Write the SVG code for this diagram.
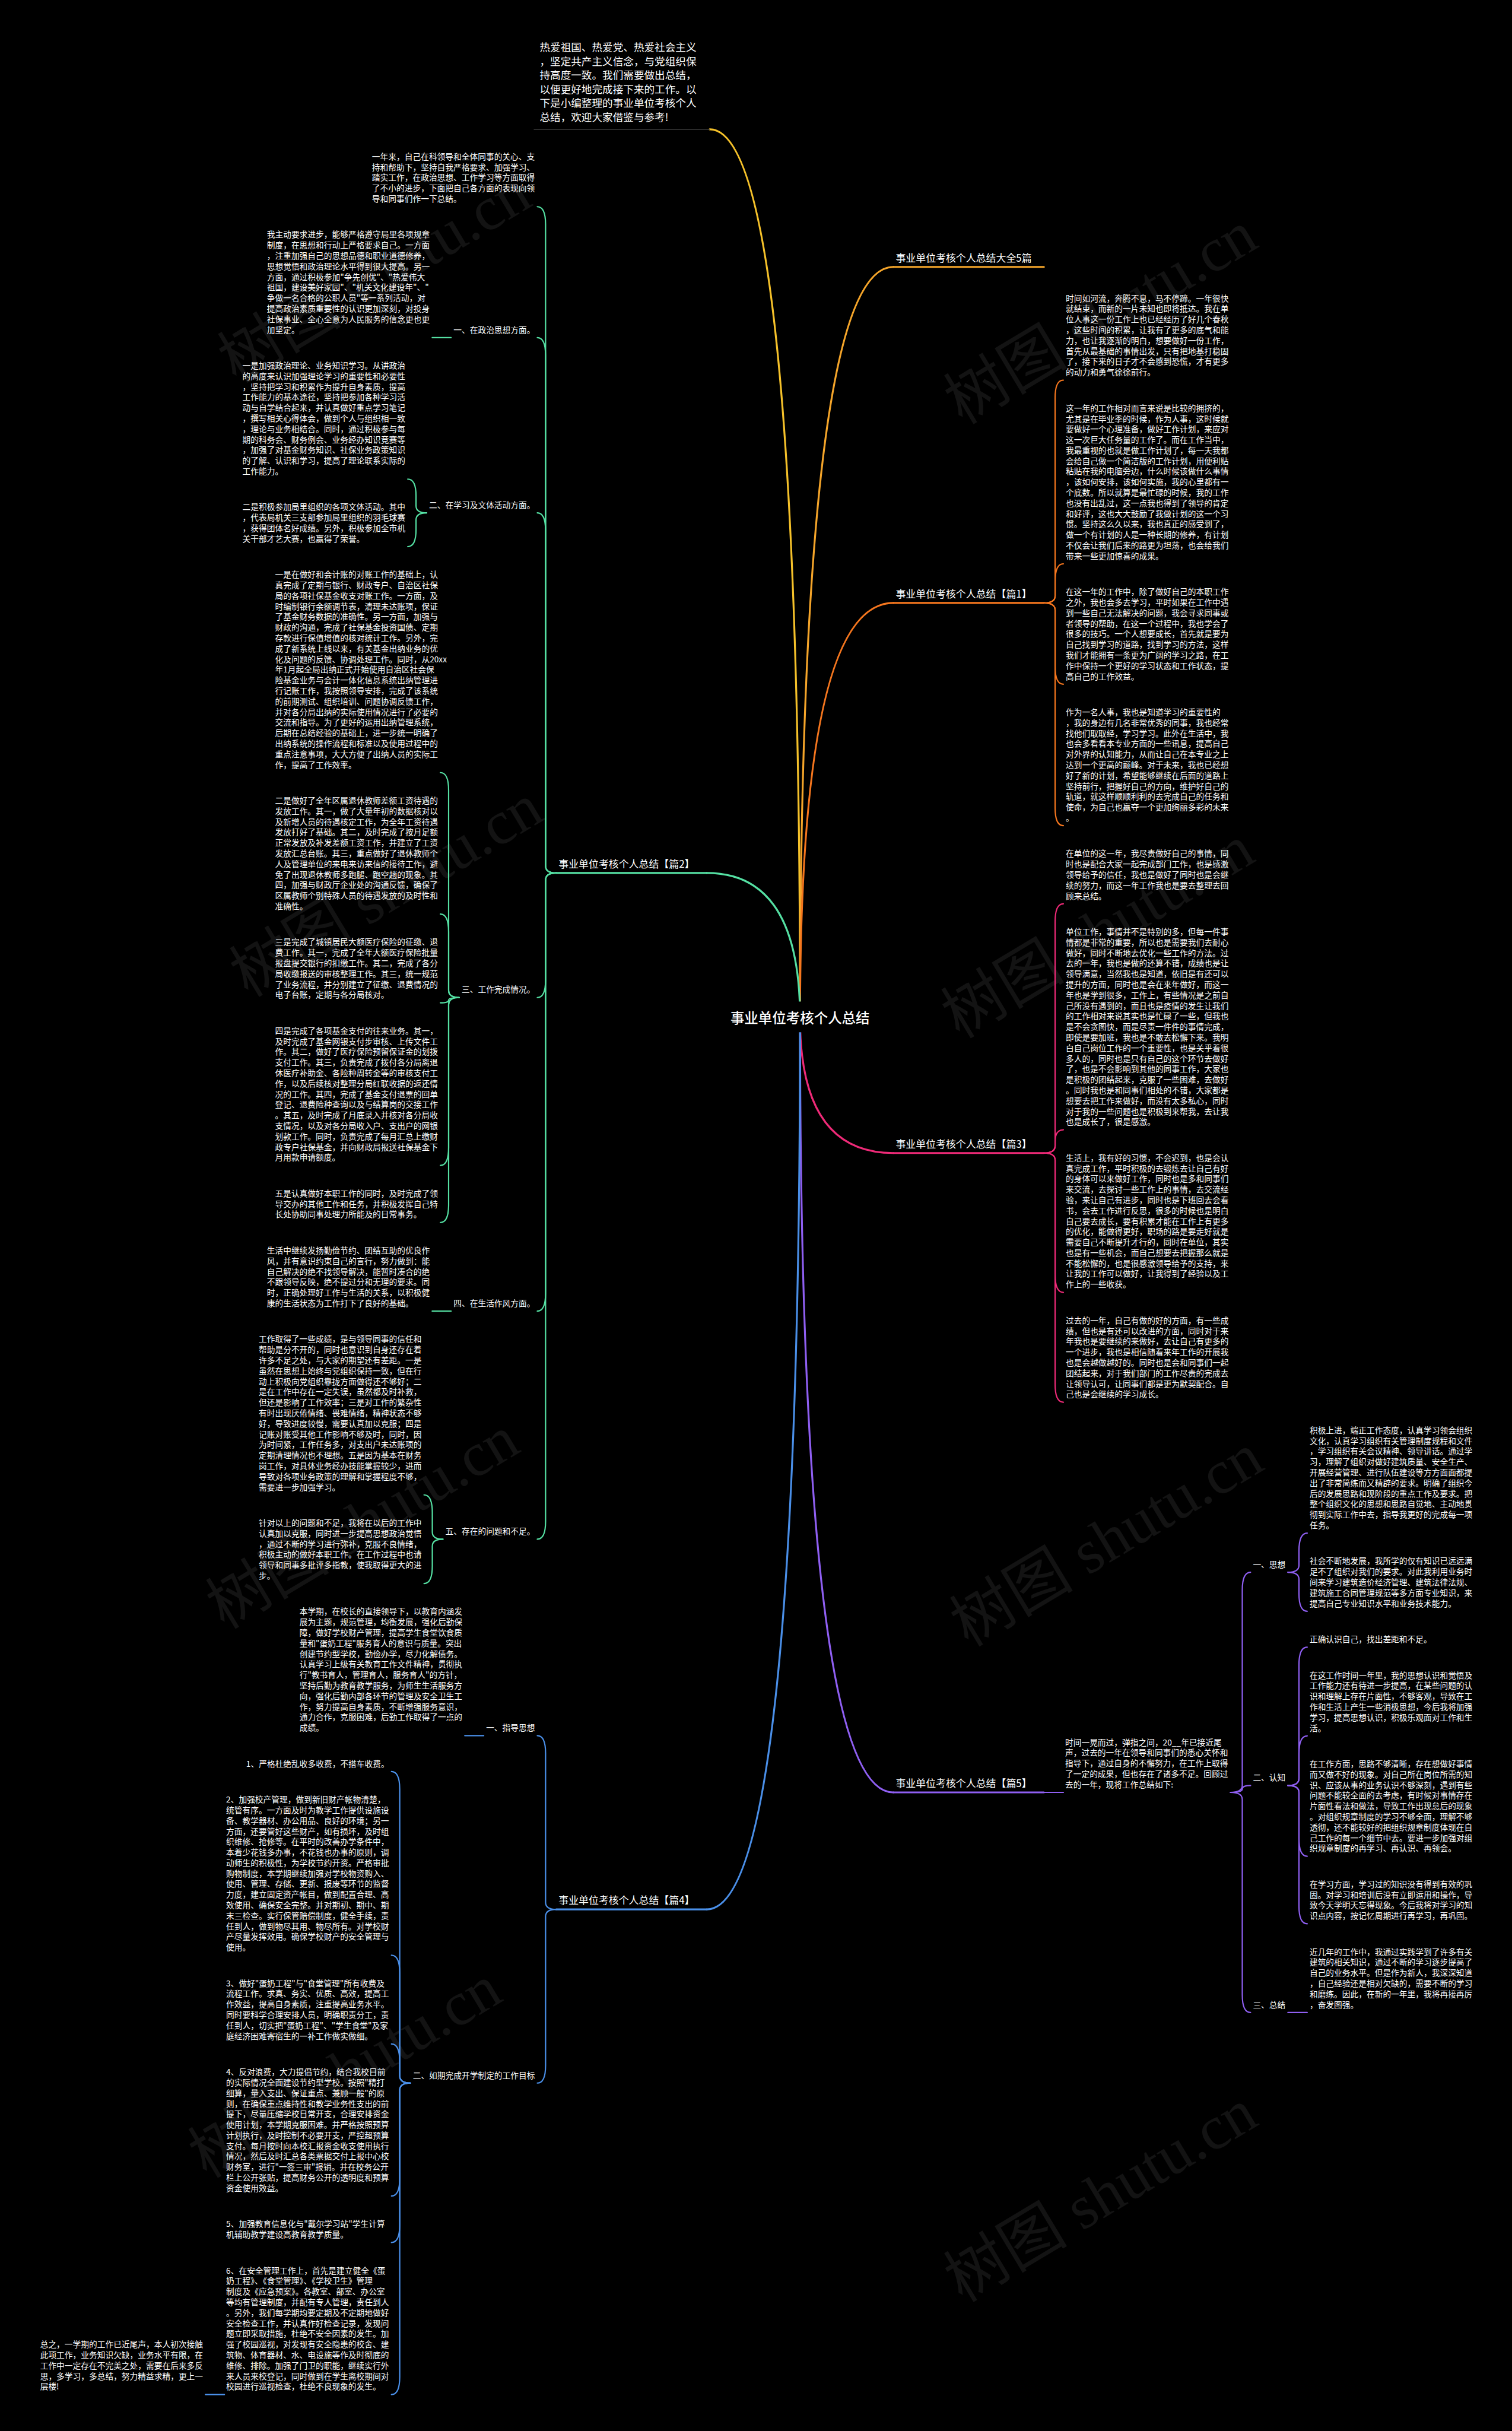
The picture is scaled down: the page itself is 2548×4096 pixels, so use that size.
<svg xmlns="http://www.w3.org/2000/svg" width="2548" height="4096" viewBox="0 0 2548 4096">
<style>
.t{font-family:"Noto Sans CJK SC","Noto Sans",sans-serif;font-size:13.8px;fill:#ffffff}
.lb{font-family:"Noto Sans CJK SC","Noto Sans",sans-serif;font-size:13.8px;fill:#ffffff}
.l1{font-family:"Noto Sans CJK SC","Noto Sans",sans-serif;font-size:17px;fill:#ffffff}
.intro{font-family:"Noto Sans CJK SC","Noto Sans",sans-serif;font-size:17.7px;fill:#ffffff}
.root{font-family:"Noto Sans CJK SC","Noto Sans",sans-serif;font-size:23.6px;fill:#ffffff;font-weight:500}
.wm{font-family:"Liberation Serif","Noto Sans CJK SC",serif;font-size:105px;fill:#131313}
.c{fill:none;stroke-width:2.2;stroke-linecap:round}
.m{fill:none;stroke-width:3.2;stroke-linecap:round}
.g{stroke:#55e0a3}.b{stroke:#4a8fe8}.o{stroke:#f5761e}.p{stroke:#ef2a78}.v{stroke:#8f5ff2}.y{stroke:#f5c12a}.a{stroke:#f5a52a}
</style>
<rect x="0" y="0" width="2548" height="4096" fill="#000000"/>
<g transform="scale(0.995)">
<g id="watermark">
<text class="wm" transform="translate(400 650) rotate(-31)">树图 shutu.cn</text>
<text class="wm" transform="translate(420 1690) rotate(-31)">树图 shutu.cn</text>
<text class="wm" transform="translate(380 2760) rotate(-31)">树图 shutu.cn</text>
<text class="wm" transform="translate(350 3690) rotate(-31)">树图 shutu.cn</text>
<text class="wm" transform="translate(1630 720) rotate(-31)">树图 shutu.cn</text>
<text class="wm" transform="translate(1625 1760) rotate(-31)">树图 shutu.cn</text>
<text class="wm" transform="translate(1640 2790) rotate(-31)">树图 shutu.cn</text>
<text class="wm" transform="translate(1630 3900) rotate(-31)">树图 shutu.cn</text>
</g>
<g id="connectors">
<path class="m y" d="M1355 1725 Q1355 219 1202 219"/>
<path class="m a" d="M1355 1725 Q1355 452 1513 452"/>
<path class="m o" d="M1355 1725 Q1355 1021 1513 1021"/>
<path class="m p" d="M1355 1725 Q1355 1952.5 1513 1952.5"/>
<path class="m v" d="M1355 1725 Q1355 3035.2 1513 3035.2"/>
<path class="m g" d="M1355 1725 Q1355 1478.3 1197 1478.3"/>
<path class="m b" d="M1355 1725 Q1355 3233.3 1197 3233.3"/>
<line x1="1513" y1="452" x2="1768" y2="452" class="m a"/>
<line x1="1513" y1="1021" x2="1768" y2="1021" class="m o"/>
<line x1="1513" y1="1952.5" x2="1768" y2="1952.5" class="m p"/>
<line x1="1513" y1="3035.2" x2="1768" y2="3035.2" class="m v"/>
<line x1="942" y1="1478.3" x2="1197" y2="1478.3" class="m g"/>
<line x1="942" y1="3233.3" x2="1197" y2="3233.3" class="m b"/>
<line x1="904" y1="219" x2="1202" y2="219" stroke="#3a3a3a" stroke-width="1.5"/>
<path class="c g" d="M942 1478.3 Q924 1478.3 924 1466.3 L924 380 Q924 350 910 350"/>
<path class="c g" d="M942 1478.3 Q924 1478.3 924 1466.3 L924 601.7 Q924 571.7 910 571.7"/>
<path class="c g" d="M942 1478.3 Q924 1478.3 924 1466.3 L924 898.5 Q924 868.5 910 868.5"/>
<path class="c g" d="M942 1478.3 Q924 1478.3 924 1490.3 L924 1659.2 Q924 1689.2 910 1689.2"/>
<path class="c g" d="M942 1478.3 Q924 1478.3 924 1490.3 L924 2190.3 Q924 2220.3 910 2220.3"/>
<path class="c g" d="M942 1478.3 Q924 1478.3 924 1490.3 L924 2576.5 Q924 2606.5 910 2606.5"/>
<path class="c g" d="M764 571.7 L732 571.7"/>
<path class="c g" d="M722.6 868.5 Q704.6 868.5 704.6 856.5 L704.6 839.9 Q704.6 811.3 690.6 811.3"/>
<path class="c g" d="M722.6 868.5 Q704.6 868.5 704.6 880.5 L704.6 897.1 Q704.6 925.7 690.6 925.7"/>
<path class="c g" d="M777.8 1689.2 Q759.8 1689.2 759.8 1677.2 L759.8 1338.3 Q759.8 1308.3 745.8 1308.3"/>
<path class="c g" d="M777.8 1689.2 Q759.8 1689.2 759.8 1677.2 L759.8 1577.9 Q759.8 1547.9 745.8 1547.9"/>
<path class="c g" d="M777.8 1689.2 Q759.8 1689.2 759.8 1693.6 Q759.8 1698.1 745.8 1698.1"/>
<path class="c g" d="M777.8 1689.2 Q759.8 1689.2 759.8 1701.2 L759.8 1943.5 Q759.8 1973.5 745.8 1973.5"/>
<path class="c g" d="M777.8 1689.2 Q759.8 1689.2 759.8 1701.2 L759.8 2040.1 Q759.8 2070.1 745.8 2070.1"/>
<path class="c g" d="M764 2220.3 L732 2220.3"/>
<path class="c g" d="M750.2 2606.5 Q732.2 2606.5 732.2 2594.5 L732.2 2561.4 Q732.2 2531.4 718.2 2531.4"/>
<path class="c g" d="M750.2 2606.5 Q732.2 2606.5 732.2 2618.5 L732.2 2651.6 Q732.2 2681.6 718.2 2681.6"/>
<path class="c b" d="M942 3233.3 Q924 3233.3 924 3221.3 L924 2969.1 Q924 2939.1 910 2939.1"/>
<path class="c b" d="M942 3233.3 Q924 3233.3 924 3245.3 L924 3497.4 Q924 3527.4 910 3527.4"/>
<path class="c b" d="M819.2 2939.1 L787.2 2939.1"/>
<path class="c b" d="M695 3527.4 Q677 3527.4 677 3515.4 L677 3029.9 Q677 2999.9 663 2999.9"/>
<path class="c b" d="M695 3527.4 Q677 3527.4 677 3515.4 L677 3341 Q677 3311 663 3311"/>
<path class="c b" d="M695 3527.4 Q677 3527.4 677 3515.4 L677 3491.2 Q677 3461.2 663 3461.2"/>
<path class="c b" d="M695 3527.4 Q677 3527.4 677 3539.4 L677 3688.7 Q677 3718.7 663 3718.7"/>
<path class="c b" d="M695 3527.4 Q677 3527.4 677 3539.4 L677 3767.4 Q677 3797.4 663 3797.4"/>
<path class="c b" d="M695 3527.4 Q677 3527.4 677 3539.4 L677 4024.9 Q677 4054.9 663 4054.9"/>
<path class="c b" d="M380 4054.9 L348 4054.9"/>
<path class="c o" d="M1768 1021 Q1787 1021 1787 1009 L1787 673.7 Q1787 643.7 1801 643.7"/>
<path class="c o" d="M1768 1021 Q1787 1021 1787 1009 L1787 984.8 Q1787 954.8 1801 954.8"/>
<path class="c o" d="M1768 1021 Q1787 1021 1787 1033 L1787 1128.6 Q1787 1158.6 1801 1158.6"/>
<path class="c o" d="M1768 1021 Q1787 1021 1787 1033 L1787 1368.2 Q1787 1398.2 1801 1398.2"/>
<path class="c p" d="M1768 1952.5 Q1787 1952.5 1787 1940.5 L1787 1560.5 Q1787 1530.5 1801 1530.5"/>
<path class="c p" d="M1768 1952.5 Q1787 1952.5 1787 1940.5 L1787 1932.8 Q1787 1913.1 1801 1913.1"/>
<path class="c p" d="M1768 1952.5 Q1787 1952.5 1787 1964.5 L1787 2158.5 Q1787 2188.5 1801 2188.5"/>
<path class="c p" d="M1768 1952.5 Q1787 1952.5 1787 1964.5 L1787 2344.5 Q1787 2374.5 1801 2374.5"/>
<path class="c v" d="M1768 3035.2 L1801 3035.2"/>
<path class="c v" d="M2084 3035.2 Q2104 3035.2 2104 3023.2 L2104 2692.4 Q2104 2662.4 2118 2662.4"/>
<path class="c v" d="M2084 3035.2 Q2104 3035.2 2104 3029.3 Q2104 3023.5 2118 3023.5"/>
<path class="c v" d="M2084 3035.2 Q2104 3035.2 2104 3047.2 L2104 3377.9 Q2104 3407.9 2118 3407.9"/>
<path class="c v" d="M2181.2 2662.4 Q2200 2662.4 2200 2650.4 L2200 2626.2 Q2200 2596.2 2214 2596.2"/>
<path class="c v" d="M2181.2 2662.4 Q2200 2662.4 2200 2674.4 L2200 2698.5 Q2200 2728.5 2214 2728.5"/>
<path class="c v" d="M2181.2 3023.5 Q2200 3023.5 2200 3011.5 L2200 2819.3 Q2200 2789.3 2214 2789.3"/>
<path class="c v" d="M2181.2 3023.5 Q2200 3023.5 2200 3011.5 L2200 2969.5 Q2200 2939.5 2214 2939.5"/>
<path class="c v" d="M2181.2 3023.5 Q2200 3023.5 2200 3035.5 L2200 3113.3 Q2200 3143.3 2214 3143.3"/>
<path class="c v" d="M2181.2 3023.5 Q2200 3023.5 2200 3035.5 L2200 3227.7 Q2200 3257.7 2214 3257.7"/>
<path class="c v" d="M2181.2 3407.9 L2214 3407.9"/>
</g>

<g id="root">
<rect x="1228" y="1696" width="254" height="52" rx="6" fill="#000000"/>
<text class="root" x="1355" y="1733" text-anchor="middle">事业单位考核个人总结</text>
</g>

<g id="intro">
<text class="intro" x="914"><tspan x="914" y="86.7">热爱祖国、热爱党、热爱社会主义</tspan><tspan x="914" dy="23.6">，坚定共产主义信念，与党组织保</tspan><tspan x="914" dy="23.6">持高度一致。我们需要做出总结，</tspan><tspan x="914" dy="23.6">以便更好地完成接下来的工作。以</tspan><tspan x="914" dy="23.6">下是小编整理的事业单位考核个人</tspan><tspan x="914" dy="23.6">总结，欢迎大家借鉴与参考!</tspan></text>
</g>

<g id="l1-daquan"><text class="l1" x="1517" y="443">事业单位考核个人总结大全5篇</text></g>
<g id="l1-p1"><text class="l1" x="1517" y="1012">事业单位考核个人总结【篇1】</text></g>
<g id="l1-p3"><text class="l1" x="1517" y="1943.5">事业单位考核个人总结【篇3】</text></g>
<g id="l1-p5"><text class="l1" x="1517" y="3026.2">事业单位考核个人总结【篇5】</text></g>
<g id="l1-p2"><text class="l1" x="946" y="1469.3">事业单位考核个人总结【篇2】</text></g>
<g id="l1-p4"><text class="l1" x="946" y="3224.3">事业单位考核个人总结【篇4】</text></g>

<g id="lab-p2-1"><text class="lb" x="906" y="563.4" text-anchor="end">一、在政治思想方面。</text></g>
<g id="lab-p2-2"><text class="lb" x="906" y="860.2" text-anchor="end">二、在学习及文体活动方面。</text></g>
<g id="lab-p2-3"><text class="lb" x="906" y="1680.9" text-anchor="end">三、工作完成情况。</text></g>
<g id="lab-p2-4"><text class="lb" x="906" y="2212" text-anchor="end">四、在生活作风方面。</text></g>
<g id="lab-p2-5"><text class="lb" x="906" y="2598.2" text-anchor="end">五、存在的问题和不足。</text></g>
<g id="lab-p4-1"><text class="lb" x="906" y="2930.8" text-anchor="end">一、指导思想</text></g>
<g id="lab-p4-2"><text class="lb" x="906" y="3519.1" text-anchor="end">二、如期完成开学制定的工作目标</text></g>
<g id="lab-p5-1"><text class="lb" x="2122" y="2654.1">一、思想</text></g>
<g id="lab-p5-2"><text class="lb" x="2122" y="3015.2">二、认知</text></g>
<g id="lab-p5-3"><text class="lb" x="2122" y="3399.6">三、总结</text></g>

<g id="b1"><text class="t" x="630"><tspan x="630" y="270.2">一年来，自己在科领导和全体同事的关心、支</tspan><tspan x="630" dy="17.88">持和帮助下，坚持自我严格要求、加强学习、</tspan><tspan x="630" dy="17.88">踏实工作，在政治思想、工作学习等方面取得</tspan><tspan x="630" dy="17.88">了不小的进步，下面把自己各方面的表现向领</tspan><tspan x="630" dy="17.88">导和同事们作一下总结。</tspan></text></g>

<g id="b2"><text class="t"><tspan x="452" y="402.5">我主动要求进步，能够严格遵守局里各项规章</tspan><tspan x="452" dy="17.88">制度，在思想和行动上严格要求自己。一方面</tspan><tspan x="452" dy="17.88">，注重加强自己的思想品德和职业道德修养，</tspan><tspan x="452" dy="17.88">思想觉悟和政治理论水平得到很大提高。另一</tspan><tspan x="452" dy="17.88">方面，通过积极参加"争先创优"、"热爱伟大</tspan><tspan x="452" dy="17.88">祖国，建设美好家园"、"机关文化建设年"、"</tspan><tspan x="452" dy="17.88">争做一名合格的公职人员"等一系列活动，对</tspan><tspan x="452" dy="17.88">提高政治素质重要性的认识更加深刻，对投身</tspan><tspan x="452" dy="17.88">社保事业、全心全意为人民服务的信念更也更</tspan><tspan x="452" dy="17.88">加坚定。</tspan></text></g>

<g id="b3"><text class="t"><tspan x="410.6" y="624.2">一是加强政治理论、业务知识学习。从讲政治</tspan><tspan x="410.6" dy="17.88">的高度来认识加强理论学习的重要性和必要性</tspan><tspan x="410.6" dy="17.88">，坚持把学习和积累作为提升自身素质，提高</tspan><tspan x="410.6" dy="17.88">工作能力的基本途径，坚持把参加各种学习活</tspan><tspan x="410.6" dy="17.88">动与自学结合起来，并认真做好重点学习笔记</tspan><tspan x="410.6" dy="17.88">，撰写相关心得体会，做到个人与组织相一致</tspan><tspan x="410.6" dy="17.88">，理论与业务相结合。同时，通过积极参与每</tspan><tspan x="410.6" dy="17.88">期的科务会、财务例会、业务经办知识竞赛等</tspan><tspan x="410.6" dy="17.88">，加强了对基金财务知识、社保业务政策知识</tspan><tspan x="410.6" dy="17.88">的了解、认识和学习，提高了理论联系实际的</tspan><tspan x="410.6" dy="17.88">工作能力。</tspan></text></g>

<g id="b4"><text class="t"><tspan x="410.6" y="863.8">二是积极参加局里组织的各项文体活动。其中</tspan><tspan x="410.6" dy="17.88">，代表局机关三支部参加局里组织的羽毛球赛</tspan><tspan x="410.6" dy="17.88">，获得团体名好成绩。另外，积极参加全市机</tspan><tspan x="410.6" dy="17.88">关干部才艺大赛，也赢得了荣誉。</tspan></text></g>

<g id="b5"><text class="t"><tspan x="465.8" y="978.2">一是在做好和会计账的对账工作的基础上，认</tspan><tspan x="465.8" dy="17.88">真完成了定期与银行、财政专户、自治区社保</tspan><tspan x="465.8" dy="17.88">局的各项社保基金收支对账工作。一方面，及</tspan><tspan x="465.8" dy="17.88">时编制银行余额调节表，清理未达账项，保证</tspan><tspan x="465.8" dy="17.88">了基金财务数据的准确性。另一方面，加强与</tspan><tspan x="465.8" dy="17.88">财政的沟通，完成了社保基金投资国债、定期</tspan><tspan x="465.8" dy="17.88">存款进行保值增值的核对统计工作。另外，完</tspan><tspan x="465.8" dy="17.88">成了新系统上线以来，有关基金出纳业务的优</tspan><tspan x="465.8" dy="17.88">化及问题的反馈、协调处理工作。同时，从20xx</tspan><tspan x="465.8" dy="17.88">年1月起全局出纳正式开始使用自治区社会保</tspan><tspan x="465.8" dy="17.88">险基金业务与会计一体化信息系统出纳管理进</tspan><tspan x="465.8" dy="17.88">行记账工作，我按照领导安排，完成了该系统</tspan><tspan x="465.8" dy="17.88">的前期测试、组织培训、问题协调反馈工作，</tspan><tspan x="465.8" dy="17.88">并对各分局出纳的实际使用情况进行了必要的</tspan><tspan x="465.8" dy="17.88">交流和指导。为了更好的运用出纳管理系统，</tspan><tspan x="465.8" dy="17.88">后期在总结经验的基础上，进一步统一明确了</tspan><tspan x="465.8" dy="17.88">出纳系统的操作流程和标准以及使用过程中的</tspan><tspan x="465.8" dy="17.88">重点注意事项，大大方便了出纳人员的实际工</tspan><tspan x="465.8" dy="17.88">作，提高了工作效率。</tspan></text></g>

<g id="b6"><text class="t"><tspan x="465.8" y="1360.8">二是做好了全年区属退休教师差额工资待遇的</tspan><tspan x="465.8" dy="17.88">发放工作。其一，做了大量年初的数据核对以</tspan><tspan x="465.8" dy="17.88">及新增人员的待遇核定工作，为全年工资待遇</tspan><tspan x="465.8" dy="17.88">发放打好了基础。其二，及时完成了按月足额</tspan><tspan x="465.8" dy="17.88">正常发放及补发差额工资工作，并建立了工资</tspan><tspan x="465.8" dy="17.88">发放汇总台账。其三，重点做好了退休教师个</tspan><tspan x="465.8" dy="17.88">人及管理单位的来电来访来信的接待工作，避</tspan><tspan x="465.8" dy="17.88">免了出现退休教师多跑腿、跑空趟的现象。其</tspan><tspan x="465.8" dy="17.88">四，加强与财政厅企业处的沟通反馈，确保了</tspan><tspan x="465.8" dy="17.88">区属教师个别特殊人员的待遇发放的及时性和</tspan><tspan x="465.8" dy="17.88">准确性。</tspan></text></g>

<g id="b7"><text class="t"><tspan x="465.8" y="1600.4">三是完成了城镇居民大额医疗保险的征缴、退</tspan><tspan x="465.8" dy="17.88">费工作。其一，完成了全年大额医疗保险批量</tspan><tspan x="465.8" dy="17.88">报盘提交银行的扣缴工作。其二，完成了各分</tspan><tspan x="465.8" dy="17.88">局收缴报送的审核整理工作。其三，统一规范</tspan><tspan x="465.8" dy="17.88">了业务流程，并分别建立了征缴、退费情况的</tspan><tspan x="465.8" dy="17.88">电子台账，定期与各分局核对。</tspan></text></g>

<g id="b8"><text class="t"><tspan x="465.8" y="1750.6">四是完成了各项基金支付的往来业务。其一，</tspan><tspan x="465.8" dy="17.88">及时完成了基金网银支付步审核、上传文件工</tspan><tspan x="465.8" dy="17.88">作。其二，做好了医疗保险预留保证金的划拨</tspan><tspan x="465.8" dy="17.88">支付工作。其三，负责完成了拨付各分局离退</tspan><tspan x="465.8" dy="17.88">休医疗补助金、各险种周转金等的审核支付工</tspan><tspan x="465.8" dy="17.88">作，以及后续核对整理分局红联收据的返还情</tspan><tspan x="465.8" dy="17.88">况的工作。其四，完成了基金支付退票的回单</tspan><tspan x="465.8" dy="17.88">登记、退费险种查询以及与结算岗的交接工作</tspan><tspan x="465.8" dy="17.88">。其五，及时完成了月底录入并核对各分局收</tspan><tspan x="465.8" dy="17.88">支情况，以及对各分局收入户、支出户的网银</tspan><tspan x="465.8" dy="17.88">划款工作。同时，负责完成了每月汇总上缴财</tspan><tspan x="465.8" dy="17.88">政专户社保基金，并向财政局报送社保基金下</tspan><tspan x="465.8" dy="17.88">月用款申请额度。</tspan></text></g>

<g id="b9"><text class="t"><tspan x="465.8" y="2026">五是认真做好本职工作的同时，及时完成了领</tspan><tspan x="465.8" dy="17.88">导交办的其他工作和任务，并积极发挥自己特</tspan><tspan x="465.8" dy="17.88">长处协助同事处理力所能及的日常事务。</tspan></text></g>

<g id="b10"><text class="t"><tspan x="452" y="2122.6">生活中继续发扬勤俭节约、团结互助的优良作</tspan><tspan x="452" dy="17.88">风，并有意识约束自己的言行，努力做到：能</tspan><tspan x="452" dy="17.88">自己解决的绝不找领导解决，能暂时凑合的绝</tspan><tspan x="452" dy="17.88">不跟领导反映，绝不提过分和无理的要求。同</tspan><tspan x="452" dy="17.88">时，正确处理好工作与生活的关系，以积极健</tspan><tspan x="452" dy="17.88">康的生活状态为工作打下了良好的基础。</tspan></text></g>

<g id="b11"><text class="t"><tspan x="438.2" y="2272.8">工作取得了一些成绩，是与领导同事的信任和</tspan><tspan x="438.2" dy="17.88">帮助是分不开的，同时也意识到自身还存在着</tspan><tspan x="438.2" dy="17.88">许多不足之处，与大家的期望还有差距。一是</tspan><tspan x="438.2" dy="17.88">虽然在思想上始终与党组织保持一致，但在行</tspan><tspan x="438.2" dy="17.88">动上积极向党组织靠拢方面做得还不够好；二</tspan><tspan x="438.2" dy="17.88">是在工作中存在一定失误，虽然都及时补救，</tspan><tspan x="438.2" dy="17.88">但还是影响了工作效率；三是对工作的繁杂性</tspan><tspan x="438.2" dy="17.88">有时出现厌倦情绪、畏难情绪，精神状态不够</tspan><tspan x="438.2" dy="17.88">好，导致进度较慢，需要认真加以克服；四是</tspan><tspan x="438.2" dy="17.88">记账对账受其他工作影响不够及时，同时，因</tspan><tspan x="438.2" dy="17.88">为时间紧，工作任务多，对支出户未达账项的</tspan><tspan x="438.2" dy="17.88">定期清理情况也不理想。五是因为基本在财务</tspan><tspan x="438.2" dy="17.88">岗工作，对具体业务经办技能掌握较少，进而</tspan><tspan x="438.2" dy="17.88">导致对各项业务政策的理解和掌握程度不够，</tspan><tspan x="438.2" dy="17.88">需要进一步加强学习。</tspan></text></g>

<g id="b12"><text class="t"><tspan x="438.2" y="2583.9">针对以上的问题和不足，我将在以后的工作中</tspan><tspan x="438.2" dy="17.88">认真加以克服，同时进一步提高思想政治觉悟</tspan><tspan x="438.2" dy="17.88">，通过不断的学习进行弥补，克服不良情绪，</tspan><tspan x="438.2" dy="17.88">积极主动的做好本职工作。在工作过程中也请</tspan><tspan x="438.2" dy="17.88">领导和同事多批评多指教，使我取得更大的进</tspan><tspan x="438.2" dy="17.88">步。</tspan></text></g>

<g id="b13"><text class="t"><tspan x="507.2" y="2734.1">本学期，在校长的直接领导下，以教育内涵发</tspan><tspan x="507.2" dy="17.88">展为主题，规范管理，均衡发展，强化后勤保</tspan><tspan x="507.2" dy="17.88">障，做好学校财产管理，提高学生食堂饮食质</tspan><tspan x="507.2" dy="17.88">量和"蛋奶工程"服务育人的意识与质量。突出</tspan><tspan x="507.2" dy="17.88">创建节约型学校，勤俭办学，尽力化解债务。</tspan><tspan x="507.2" dy="17.88">认真学习上级有关教育工作文件精神，贯彻执</tspan><tspan x="507.2" dy="17.88">行"教书育人，管理育人，服务育人"的方针，</tspan><tspan x="507.2" dy="17.88">坚持后勤为教育教学服务，为师生生活服务方</tspan><tspan x="507.2" dy="17.88">向，强化后勤内部各环节的管理及安全卫生工</tspan><tspan x="507.2" dy="17.88">作，努力提高自身素质，不断增强服务意识，</tspan><tspan x="507.2" dy="17.88">通力合作，克服困难，后勤工作取得了一点的</tspan><tspan x="507.2" dy="17.88">成绩。</tspan></text></g>

<g id="b14"><text class="t" x="659" y="2991.6" text-anchor="end">1、严格杜绝乱收多收费，不搭车收费。</text></g>

<g id="b15"><text class="t"><tspan x="383" y="3052.4">2、加强校产管理，做到新旧财产帐物清楚，</tspan><tspan x="383" dy="17.88">统管有序。一方面及时为教学工作提供设施设</tspan><tspan x="383" dy="17.88">备、教学器材、办公用品、良好的环境；另一</tspan><tspan x="383" dy="17.88">方面，还要管好这些财产，如有损坏，及时组</tspan><tspan x="383" dy="17.88">织维修、抢修等。在平时的改善办学条件中，</tspan><tspan x="383" dy="17.88">本着少花钱多办事，不花钱也办事的原则，调</tspan><tspan x="383" dy="17.88">动师生的积极性，为学校节约开资。严格审批</tspan><tspan x="383" dy="17.88">购物制度，本学期继续加强对学校物资购入、</tspan><tspan x="383" dy="17.88">使用、管理、存储、更新、报废等环节的监督</tspan><tspan x="383" dy="17.88">力度，建立固定资产帐目，做到配置合理、高</tspan><tspan x="383" dy="17.88">效使用、确保安全完整。并对期初、期中、期</tspan><tspan x="383" dy="17.88">末三检查。实行保管赔偿制度，健全手续，责</tspan><tspan x="383" dy="17.88">任到人，做到物尽其用、物尽所有。对学校财</tspan><tspan x="383" dy="17.88">产尽量发挥效用。确保学校财产的安全管理与</tspan><tspan x="383" dy="17.88">使用。</tspan></text></g>

<g id="b16"><text class="t"><tspan x="383" y="3363.5">3、做好"蛋奶工程"与"食堂管理"所有收费及</tspan><tspan x="383" dy="17.88">流程工作。求真、务实、优质、高效，提高工</tspan><tspan x="383" dy="17.88">作效益，提高自身素质，注重提高业务水平。</tspan><tspan x="383" dy="17.88">同时要科学合理安排人员，明确职责分工，责</tspan><tspan x="383" dy="17.88">任到人，切实把"蛋奶工程"、"学生食堂"及家</tspan><tspan x="383" dy="17.88">庭经济困难寄宿生的一补工作做实做细。</tspan></text></g>

<g id="b17"><text class="t"><tspan x="383" y="3513.7">4、反对浪费，大力提倡节约，结合我校目前</tspan><tspan x="383" dy="17.88">的实际情况全面建设节约型学校。按照"精打</tspan><tspan x="383" dy="17.88">细算，量入支出、保证重点、兼顾一般"的原</tspan><tspan x="383" dy="17.88">则，在确保重点维持性和教学业务性支出的前</tspan><tspan x="383" dy="17.88">提下，尽量压缩学校日常开支，合理安排资金</tspan><tspan x="383" dy="17.88">使用计划，本学期克服困难。并严格按照预算</tspan><tspan x="383" dy="17.88">计划执行，及时控制不必要开支，严控超预算</tspan><tspan x="383" dy="17.88">支付。每月按时向本校汇报资金收支使用执行</tspan><tspan x="383" dy="17.88">情况，然后及时汇总各类票据交付上报中心校</tspan><tspan x="383" dy="17.88">财务室，进行"一签三审"报销。并在校务公开</tspan><tspan x="383" dy="17.88">栏上公开张贴，提高财务公开的透明度和预算</tspan><tspan x="383" dy="17.88">资金使用效益。</tspan></text></g>

<g id="b18"><text class="t"><tspan x="383" y="3771.2">5、加强教育信息化与"戴尔学习站"学生计算</tspan><tspan x="383" dy="17.88">机辅助教学建设高教育教学质量。</tspan></text></g>

<g id="b19"><text class="t"><tspan x="383" y="3849.9">6、在安全管理工作上，首先是建立健全《蛋</tspan><tspan x="383" dy="17.88">奶工程》、《食堂管理》、《学校卫生》管理</tspan><tspan x="383" dy="17.88">制度及《应急预案》。各教室、部室、办公室</tspan><tspan x="383" dy="17.88">等均有管理制度，并配有专人管理，责任到人</tspan><tspan x="383" dy="17.88">。另外，我们每学期均要定期及不定期地做好</tspan><tspan x="383" dy="17.88">安全检查工作，并认真作好检查记录，发现问</tspan><tspan x="383" dy="17.88">题立即采取措施，杜绝不安全因素的发生。加</tspan><tspan x="383" dy="17.88">强了校园巡视，对发现有安全隐患的校舍、建</tspan><tspan x="383" dy="17.88">筑物、体育器材、水、电设施等作及时彻底的</tspan><tspan x="383" dy="17.88">维修、排除。加强了门卫的职能，继续实行外</tspan><tspan x="383" dy="17.88">来人员来校登记，同时做到在学生离校期间对</tspan><tspan x="383" dy="17.88">校园进行巡视检查，杜绝不良现象的发生。</tspan></text></g>

<g id="b20"><text class="t"><tspan x="68" y="3975.1">总之，一学期的工作已近尾声，本人初次接触</tspan><tspan x="68" dy="17.88">此项工作，业务知识欠缺，业务水平有限，在</tspan><tspan x="68" dy="17.88">工作中一定存在不完美之处，需要在后来多反</tspan><tspan x="68" dy="17.88">思，多学习，多总结，努力精益求精，更上一</tspan><tspan x="68" dy="17.88">层楼!</tspan></text></g>

<g id="ra"><text class="t"><tspan x="1805" y="510.2">时间如河流，奔腾不息，马不停蹄。一年很快</tspan><tspan x="1805" dy="17.88">就结束，而新的一片未知也即将抵达。我在单</tspan><tspan x="1805" dy="17.88">位人事这一份工作上也已经经历了好几个春秋</tspan><tspan x="1805" dy="17.88">，这些时间的积累，让我有了更多的底气和能</tspan><tspan x="1805" dy="17.88">力，也让我逐渐的明白，想要做好一份工作，</tspan><tspan x="1805" dy="17.88">首先从最基础的事情出发，只有把地基打稳固</tspan><tspan x="1805" dy="17.88">了，接下来的日子才不会感到恐慌，才有更多</tspan><tspan x="1805" dy="17.88">的动力和勇气徐徐前行。</tspan></text></g>

<g id="rb"><text class="t"><tspan x="1805" y="696.2">这一年的工作相对而言来说是比较的拥挤的，</tspan><tspan x="1805" dy="17.88">尤其是在毕业季的时候，作为人事，这时候就</tspan><tspan x="1805" dy="17.88">要做好一个心理准备，做好工作计划，来应对</tspan><tspan x="1805" dy="17.88">这一次巨大任务量的工作了。而在工作当中，</tspan><tspan x="1805" dy="17.88">我最重视的也就是做工作计划了，每一天我都</tspan><tspan x="1805" dy="17.88">会给自己做一个简洁版的工作计划，用便利贴</tspan><tspan x="1805" dy="17.88">粘贴在我的电脑旁边，什么时候该做什么事情</tspan><tspan x="1805" dy="17.88">，该如何安排，该如何实施，我的心里都有一</tspan><tspan x="1805" dy="17.88">个底数。所以就算是最忙碌的时候，我的工作</tspan><tspan x="1805" dy="17.88">也没有出乱过，这一点我也得到了领导的肯定</tspan><tspan x="1805" dy="17.88">和好评，这也大大鼓励了我做计划的这一个习</tspan><tspan x="1805" dy="17.88">惯。坚持这么久以来，我也真正的感受到了，</tspan><tspan x="1805" dy="17.88">做一个有计划的人是一种长期的修养，有计划</tspan><tspan x="1805" dy="17.88">不仅会让我们后来的路更为坦荡，也会给我们</tspan><tspan x="1805" dy="17.88">带来一些更加惊喜的成果。</tspan></text></g>

<g id="rc"><text class="t"><tspan x="1805" y="1007.3">在这一年的工作中，除了做好自己的本职工作</tspan><tspan x="1805" dy="17.88">之外，我也会多去学习，平时如果在工作中遇</tspan><tspan x="1805" dy="17.88">到一些自己无法解决的问题，我会寻求同事或</tspan><tspan x="1805" dy="17.88">者领导的帮助，在这一个过程中，我也学会了</tspan><tspan x="1805" dy="17.88">很多的技巧。一个人想要成长，首先就是要为</tspan><tspan x="1805" dy="17.88">自己找到学习的道路，找到学习的方法，这样</tspan><tspan x="1805" dy="17.88">我们才能拥有一条更为广阔的学习之路，在工</tspan><tspan x="1805" dy="17.88">作中保持一个更好的学习状态和工作状态，提</tspan><tspan x="1805" dy="17.88">高自己的工作效益。</tspan></text></g>

<g id="rd"><text class="t"><tspan x="1805" y="1211.1">作为一名人事，我也是知道学习的重要性的</tspan><tspan x="1805" dy="17.88">，我的身边有几名非常优秀的同事，我也经常</tspan><tspan x="1805" dy="17.88">找他们取取经，学习学习。此外在生活中，我</tspan><tspan x="1805" dy="17.88">也会多看看本专业方面的一些讯息，提高自己</tspan><tspan x="1805" dy="17.88">对外界的认知能力，从而让自己在本专业之上</tspan><tspan x="1805" dy="17.88">达到一个更高的巅峰。对于未来，我也已经想</tspan><tspan x="1805" dy="17.88">好了新的计划，希望能够继续在后面的道路上</tspan><tspan x="1805" dy="17.88">坚持前行，把握好自己的方向，维护好自己的</tspan><tspan x="1805" dy="17.88">轨道，就这样顺顺利利的去完成自己的任务和</tspan><tspan x="1805" dy="17.88">使命，为自己也赢夺一个更加绚丽多彩的未来</tspan><tspan x="1805" dy="17.88">。</tspan></text></g>

<g id="re"><text class="t"><tspan x="1805" y="1450.7">在单位的这一年，我尽责做好自己的事情，同</tspan><tspan x="1805" dy="17.88">时也是配合大家一起完成部门工作，也是感激</tspan><tspan x="1805" dy="17.88">领导给予的信任，我也是做好了同时也是会继</tspan><tspan x="1805" dy="17.88">续的努力，而这一年工作我也是要去整理去回</tspan><tspan x="1805" dy="17.88">顾来总结。</tspan></text></g>

<g id="rf"><text class="t"><tspan x="1805" y="1583">单位工作，事情并不是特别的多，但每一件事</tspan><tspan x="1805" dy="17.88">情都是非常的重要，所以也是需要我们去耐心</tspan><tspan x="1805" dy="17.88">做好，同时不断地去优化一些工作的方法。过</tspan><tspan x="1805" dy="17.88">去的一年，我也是做的还算不错，成绩也是让</tspan><tspan x="1805" dy="17.88">领导满意，当然我也是知道，依旧是有还可以</tspan><tspan x="1805" dy="17.88">提升的方面，同时也是会在来年做好，而这一</tspan><tspan x="1805" dy="17.88">年也是学到很多，工作上，有些情况是之前自</tspan><tspan x="1805" dy="17.88">己所没有遇到的，而且也是疫情的发生让我们</tspan><tspan x="1805" dy="17.88">的工作相对来说其实也是忙碌了一些，但我也</tspan><tspan x="1805" dy="17.88">是不会贪图快，而是尽责一件件的事情完成，</tspan><tspan x="1805" dy="17.88">即使是要加班，我也是不敢去松懈下来。我明</tspan><tspan x="1805" dy="17.88">白自己岗位工作的一个重要性，也是关乎着很</tspan><tspan x="1805" dy="17.88">多人的，同时也是只有自己的这个环节去做好</tspan><tspan x="1805" dy="17.88">了，也是不会影响到其他的同事工作，大家也</tspan><tspan x="1805" dy="17.88">是积极的团结起来，克服了一些困难，去做好</tspan><tspan x="1805" dy="17.88">。同时我也是和同事们相处的不错，大家都是</tspan><tspan x="1805" dy="17.88">想要去把工作来做好，而没有太多私心，同时</tspan><tspan x="1805" dy="17.88">对于我的一些问题也是积极到来帮我，去让我</tspan><tspan x="1805" dy="17.88">也是成长了，很是感激。</tspan></text></g>

<g id="rg"><text class="t"><tspan x="1805" y="1965.6">生活上，我有好的习惯，不会迟到，也是会认</tspan><tspan x="1805" dy="17.88">真完成工作，平时积极的去锻炼去让自己有好</tspan><tspan x="1805" dy="17.88">的身体可以来做好工作，同时也是多和同事们</tspan><tspan x="1805" dy="17.88">来交流，去探讨一些工作上的事情，去交流经</tspan><tspan x="1805" dy="17.88">验，来让自己有进步，同时也是下班回去会看</tspan><tspan x="1805" dy="17.88">书，会去工作进行反思，很多的时候也是明白</tspan><tspan x="1805" dy="17.88">自己要去成长，要有积累才能在工作上有更多</tspan><tspan x="1805" dy="17.88">的优化，能做得更好，职场的路是要走好就是</tspan><tspan x="1805" dy="17.88">需要自己不断提升才行的，同时在单位，其实</tspan><tspan x="1805" dy="17.88">也是有一些机会，而自己想要去把握那么就是</tspan><tspan x="1805" dy="17.88">不能松懈的，也是很感激领导给予的支持，来</tspan><tspan x="1805" dy="17.88">让我的工作可以做好，让我得到了经验以及工</tspan><tspan x="1805" dy="17.88">作上的一些收获。</tspan></text></g>

<g id="rh"><text class="t"><tspan x="1805" y="2241">过去的一年，自己有做的好的方面，有一些成</tspan><tspan x="1805" dy="17.88">绩，但也是有还可以改进的方面，同时对于来</tspan><tspan x="1805" dy="17.88">年我也是要继续的来做好，去让自己有更多的</tspan><tspan x="1805" dy="17.88">一个进步，我也是相信随着来年工作的开展我</tspan><tspan x="1805" dy="17.88">也是会越做越好的。同时也是会和同事们一起</tspan><tspan x="1805" dy="17.88">团结起来，对于我们部门的工作尽责的完成去</tspan><tspan x="1805" dy="17.88">让领导认可，让同事们都是更为默契配合。自</tspan><tspan x="1805" dy="17.88">己也是会继续的学习成长。</tspan></text></g>

<g id="ri"><text class="t"><tspan x="1804" y="2955.4">时间一晃而过，弹指之间，20__年已接近尾</tspan><tspan x="1804" dy="17.88">声，过去的一年在领导和同事们的悉心关怀和</tspan><tspan x="1804" dy="17.88">指导下，通过自身的不懈努力，在工作上取得</tspan><tspan x="1804" dy="17.88">了一定的成果，但也存在了诸多不足。回顾过</tspan><tspan x="1804" dy="17.88">去的一年，现将工作总结如下:</tspan></text></g>

<g id="rj"><text class="t"><tspan x="2218" y="2427">积极上进，端正工作态度，认真学习领会组织</tspan><tspan x="2218" dy="17.88">文化，认真学习组织有关管理制度规程和文件</tspan><tspan x="2218" dy="17.88">，学习组织有关会议精神、领导讲话。通过学</tspan><tspan x="2218" dy="17.88">习，理解了组织对做好建筑质量、安全生产、</tspan><tspan x="2218" dy="17.88">开展经营管理、进行队伍建设等方方面面都提</tspan><tspan x="2218" dy="17.88">出了非常简练而又精辟的要求。明确了组织今</tspan><tspan x="2218" dy="17.88">后的发展思路和现阶段的重点工作及要求。把</tspan><tspan x="2218" dy="17.88">整个组织文化的思想和思路自觉地、主动地贯</tspan><tspan x="2218" dy="17.88">彻到实际工作中去，指导我更好的完成每一项</tspan><tspan x="2218" dy="17.88">任务。</tspan></text></g>

<g id="rk"><text class="t"><tspan x="2218" y="2648.7">社会不断地发展，我所学的仅有知识已远远满</tspan><tspan x="2218" dy="17.88">足不了组织对我们的要求。对此我利用业务时</tspan><tspan x="2218" dy="17.88">间来学习建筑造价经济管理、建筑法律法规、</tspan><tspan x="2218" dy="17.88">建筑施工合同管理规范等多方面专业知识，来</tspan><tspan x="2218" dy="17.88">提高自己专业知识水平和业务技术能力。</tspan></text></g>

<g id="rl"><text class="t" x="2218" y="2781">正确认识自己，找出差距和不足。</text></g>

<g id="rm"><text class="t"><tspan x="2218" y="2841.8">在这工作时间一年里，我的思想认识和觉悟及</tspan><tspan x="2218" dy="17.88">工作能力还有待进一步提高，在某些问题的认</tspan><tspan x="2218" dy="17.88">识和理解上存在片面性，不够客观，导致在工</tspan><tspan x="2218" dy="17.88">作和生活上产生一些消极思想，今后我将加强</tspan><tspan x="2218" dy="17.88">学习，提高思想认识，积极乐观面对工作和生</tspan><tspan x="2218" dy="17.88">活。</tspan></text></g>

<g id="rn"><text class="t"><tspan x="2218" y="2992">在工作方面，思路不够清晰，存在想做好事情</tspan><tspan x="2218" dy="17.88">而又做不好的现象。对自己所在岗位所需的知</tspan><tspan x="2218" dy="17.88">识、应该从事的业务认识不够深刻，遇到有些</tspan><tspan x="2218" dy="17.88">问题不能较全面的去考虑，有时候对事情存在</tspan><tspan x="2218" dy="17.88">片面性看法和做法，导致工作出现怠后的现象</tspan><tspan x="2218" dy="17.88">。对组织规章制度的学习不够全面，理解不够</tspan><tspan x="2218" dy="17.88">透彻，还不能较好的把组织规章制度体现在自</tspan><tspan x="2218" dy="17.88">己工作的每一个细节中去。要进一步加强对组</tspan><tspan x="2218" dy="17.88">织规章制度的再学习、再认识、再领会。</tspan></text></g>

<g id="ro"><text class="t"><tspan x="2218" y="3195.8">在学习方面，学习过的知识没有得到有效的巩</tspan><tspan x="2218" dy="17.88">固。对学习和培训后没有立即运用和操作，导</tspan><tspan x="2218" dy="17.88">致今天学明天忘得现象。今后我将对学习的知</tspan><tspan x="2218" dy="17.88">识点内容，按记忆周期进行再学习，再巩固。</tspan></text></g>

<g id="rp"><text class="t"><tspan x="2218" y="3310.2">近几年的工作中，我通过实践学到了许多有关</tspan><tspan x="2218" dy="17.88">建筑的相关知识，通过不断的学习逐步提高了</tspan><tspan x="2218" dy="17.88">自己的业务水平。但是作为新人，我深深知道</tspan><tspan x="2218" dy="17.88">，自己经验还是相对欠缺的，需要不断的学习</tspan><tspan x="2218" dy="17.88">和磨练。因此，在新的一年里，我将再接再厉</tspan><tspan x="2218" dy="17.88">，奋发图强。</tspan></text></g>
</g>
</svg>
